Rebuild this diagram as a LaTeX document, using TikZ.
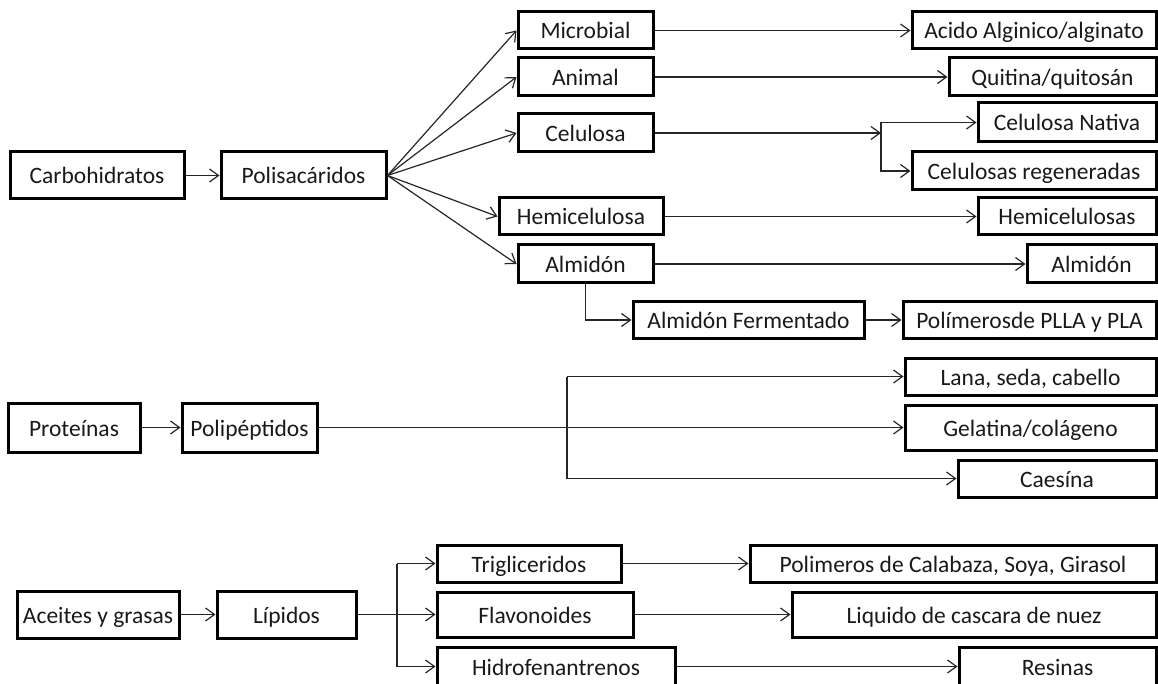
\documentclass[tikz,border=0pt]{standalone}
\usepackage{fontspec}
\setmainfont{Carlito}
\usetikzlibrary{arrows.meta}

\tikzset{
  caja/.style={draw, line width=3pt, inner sep=0pt, text=black!90,
    text height=17pt, text depth=0pt,
    font=\fontsize{23.5}{26}\selectfont},
  flecha/.style={line width=1.2pt, black!85, -{Straight Barb[length=9pt,width=13pt]}}
}

\begin{document}
\begin{tikzpicture}[x=1pt,y=-1pt]
    \useasboundingbox (0,0) rectangle (1158,684);
    \node[caja, minimum width=174pt, minimum height=47pt] (carb)  at (97,175.5)    {Carbohidratos};
    \node[caja, minimum width=165pt, minimum height=47pt] (polis) at (303.5,175.5) {Polisacáridos};
    \node[caja, minimum width=135pt, minimum height=37pt] (micro) at (585.5,30.5)  {Microbial};
    \node[caja, minimum width=135pt, minimum height=38pt] (anim)  at (585.5,77)    {Animal};
    \node[caja, minimum width=135pt, minimum height=38pt] (celu)  at (585.5,133)   {Celulosa};
    \node[caja, minimum width=164pt, minimum height=37pt] (hemi)  at (581,216.5)   {Hemicelulosa};
    \node[caja, minimum width=135pt, minimum height=38pt] (alm)   at (585.5,264)   {Almidón};
    \node[caja, minimum width=231pt, minimum height=36pt] (almf)  at (748.5,320)   {Almidón Fermentado};
    \node[caja, minimum width=253pt, minimum height=36pt] (plla)  at (1029.5,320)  {Polímerosde PLLA y PLA};
    \node[caja, minimum width=244pt, minimum height=37pt] (acido) at (1034,30.5)   {Acido Alginico/alginato};
    \node[caja, minimum width=207pt, minimum height=38pt] (quit)  at (1052.5,77)   {Quitina/quitosán};
    \node[caja, minimum width=178pt, minimum height=39pt] (cnat)  at (1067,122.5)  {Celulosa Nativa};
    \node[caja, minimum width=244pt, minimum height=38pt] (creg)  at (1034,171)    {Celulosas regeneradas};
    \node[caja, minimum width=178pt, minimum height=37pt] (hemis) at (1067,216.5)  {Hemicelulosas};
    \node[caja, minimum width=129pt, minimum height=38pt] (almb)  at (1091.5,264)  {Almidón};
    \node[caja, minimum width=132pt, minimum height=49pt] (prot)  at (74,427.5)    {Proteínas};
    \node[caja, minimum width=135pt, minimum height=49pt] (polip) at (249.5,427.5)  {Polipéptidos};
    \node[caja, minimum width=251pt, minimum height=37pt] (lana)  at (1030.5,376.5) {Lana, seda, cabello};
    \node[caja, minimum width=251pt, minimum height=45pt] (gel)   at (1030.5,427.5) {Gelatina/colágeno};
    \node[caja, minimum width=198pt, minimum height=37pt] (caes)  at (1057,478.5)  {Caesína};
    \node[caja, minimum width=162pt, minimum height=47pt] (acei)  at (98,614.5)    {Aceites y grasas};
    \node[caja, minimum width=139pt, minimum height=47pt] (lip)   at (286.5,614.5) {Lípidos};
    \node[caja, minimum width=184pt, minimum height=37pt] (trig)  at (529,563.5)   {Trigliceridos};
    \node[caja, minimum width=196pt, minimum height=45pt] (flav)  at (535,614.5)   {Flavonoides};
    \node[caja, minimum width=238pt, minimum height=39pt] (hidro) at (556,666.5)   {Hidrofenantrenos};
    \node[caja, minimum width=406pt, minimum height=37pt] (polim) at (953,563.5)   {Polimeros de Calabaza, Soya, Girasol};
    \node[caja, minimum width=364pt, minimum height=45pt] (liq)   at (974,614.5)   {Liquido de cascara de nuez};
    \node[caja, minimum width=197pt, minimum height=39pt] (resin) at (1057.5,666.5) {Resinas};
    \coordinate (cbr) at (881,133);
    \coordinate (pbr) at (567,427.5);
    \coordinate (lbr) at (397,614.5);
    \draw[flecha] (carb) -- (polis);
    \foreach \n in {micro,anim,celu,hemi,alm}
        \draw[flecha] (polis.east) -- (\n.west);
    \draw[flecha] (micro) -- (acido);
    \draw[flecha] (anim) -- (quit);
    \draw[flecha] (celu) -- (cbr);
    \draw[flecha] (cbr |- cnat.west) -- (cnat.west);
    \draw[flecha] (cbr |- cnat.west) |- (creg.west);
    \draw[flecha] (hemi) -- (hemis);
    \draw[flecha] (alm) -- (almb);
    \draw[flecha] (alm.south) |- (almf.west);
    \draw[flecha] (almf) -- (plla);
    \draw[flecha] (prot) -- (polip);
    \draw[flecha] (polip) -- (gel);
    \draw[flecha] (pbr |- lana.west) -- (lana.west);
    \draw[flecha] (pbr |- lana.west) |- (caes.west);
    \draw[flecha] (acei) -- (lip);
    \draw[flecha] (lip) -- (flav);
    \draw[flecha] (lbr |- trig.west) -- (trig.west);
    \draw[flecha] (lbr |- trig.west) |- (hidro.west);
    \draw[flecha] (trig) -- (polim);
    \draw[flecha] (flav) -- (liq);
    \draw[flecha] (hidro) -- (resin);
\end{tikzpicture}
\end{document}
